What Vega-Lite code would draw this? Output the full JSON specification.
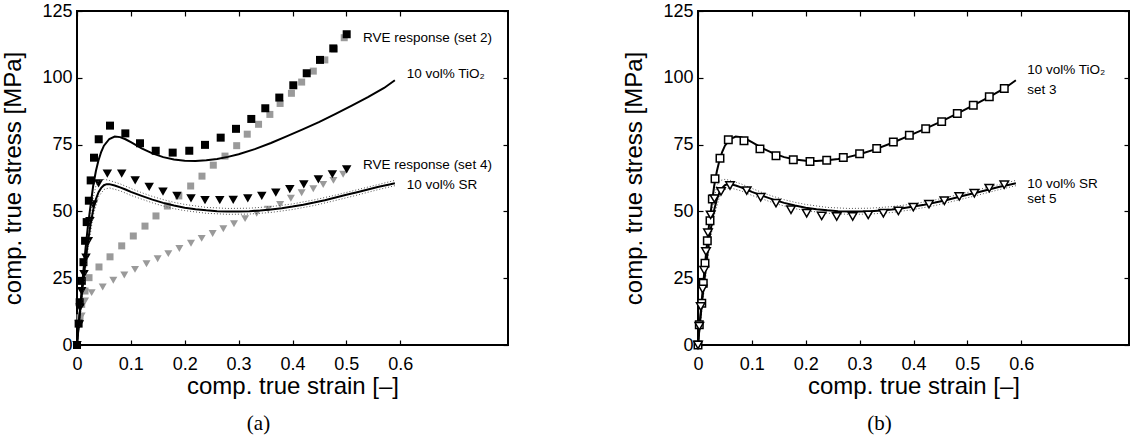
{
  "$schema": "https://vega.github.io/schema/vega-lite/v6.json",
  "background": "white",
  "padding": {"left": 0, "top": 1, "right": 5, "bottom": 3},
  "spacing": 190,
  "bounds": "flush",
  "config": {
    "view": {"stroke": "black", "strokeWidth": 2},
    "style": {"cell": {"stroke": "black", "strokeWidth": 2}},
    "font": "Liberation Sans",
    "axis": {
      "grid": false, "domain": false, "tickColor": "black", "tickSize": 5, "tickWidth": 1.2, "offset": -5,
      "labelFontSize": 18, "labelColor": "black", "labelFont": "Liberation Sans",
      "titleFont": "Liberation Sans", "titleFontSize": 24, "titleFontWeight": "normal", "titleColor": "black",
      "labelFlush": false, "labelOverlap": false
    },
    "title": {"font": "Liberation Serif", "fontSize": 21, "fontWeight": "normal", "color": "black", "orient": "bottom", "offset": 15, "dx": -34}
  },
  "datasets": {
    "model": [
      {"series": "10 vol% TiO2", "strain": 0, "stress": 0},
      {"series": "10 vol% TiO2", "strain": 0.004, "stress": 10},
      {"series": "10 vol% TiO2", "strain": 0.008, "stress": 19},
      {"series": "10 vol% TiO2", "strain": 0.012, "stress": 28},
      {"series": "10 vol% TiO2", "strain": 0.016, "stress": 36.5},
      {"series": "10 vol% TiO2", "strain": 0.02, "stress": 44},
      {"series": "10 vol% TiO2", "strain": 0.025, "stress": 52},
      {"series": "10 vol% TiO2", "strain": 0.03, "stress": 59.5},
      {"series": "10 vol% TiO2", "strain": 0.035, "stress": 65},
      {"series": "10 vol% TiO2", "strain": 0.04, "stress": 69.2},
      {"series": "10 vol% TiO2", "strain": 0.045, "stress": 72.3},
      {"series": "10 vol% TiO2", "strain": 0.05, "stress": 74.6},
      {"series": "10 vol% TiO2", "strain": 0.06, "stress": 77.1},
      {"series": "10 vol% TiO2", "strain": 0.07, "stress": 78.0},
      {"series": "10 vol% TiO2", "strain": 0.08, "stress": 77.8},
      {"series": "10 vol% TiO2", "strain": 0.09, "stress": 77.0},
      {"series": "10 vol% TiO2", "strain": 0.1, "stress": 75.9},
      {"series": "10 vol% TiO2", "strain": 0.12, "stress": 73.6},
      {"series": "10 vol% TiO2", "strain": 0.14, "stress": 71.7},
      {"series": "10 vol% TiO2", "strain": 0.16, "stress": 70.3},
      {"series": "10 vol% TiO2", "strain": 0.18, "stress": 69.4},
      {"series": "10 vol% TiO2", "strain": 0.2, "stress": 69.0},
      {"series": "10 vol% TiO2", "strain": 0.22, "stress": 68.9},
      {"series": "10 vol% TiO2", "strain": 0.24, "stress": 69.1},
      {"series": "10 vol% TiO2", "strain": 0.26, "stress": 69.6},
      {"series": "10 vol% TiO2", "strain": 0.28, "stress": 70.4},
      {"series": "10 vol% TiO2", "strain": 0.3, "stress": 71.4},
      {"series": "10 vol% TiO2", "strain": 0.33, "stress": 73.3},
      {"series": "10 vol% TiO2", "strain": 0.36, "stress": 75.6},
      {"series": "10 vol% TiO2", "strain": 0.39, "stress": 78.2},
      {"series": "10 vol% TiO2", "strain": 0.42, "stress": 80.8},
      {"series": "10 vol% TiO2", "strain": 0.45, "stress": 83.5},
      {"series": "10 vol% TiO2", "strain": 0.48, "stress": 86.5},
      {"series": "10 vol% TiO2", "strain": 0.51, "stress": 89.6},
      {"series": "10 vol% TiO2", "strain": 0.54, "stress": 92.8},
      {"series": "10 vol% TiO2", "strain": 0.57, "stress": 96.2},
      {"series": "10 vol% TiO2", "strain": 0.59, "stress": 99.1},
      {"series": "10 vol% SR", "strain": 0, "stress": 0},
      {"series": "10 vol% SR", "strain": 0.004, "stress": 9},
      {"series": "10 vol% SR", "strain": 0.008, "stress": 17},
      {"series": "10 vol% SR", "strain": 0.012, "stress": 24.5},
      {"series": "10 vol% SR", "strain": 0.016, "stress": 31.5},
      {"series": "10 vol% SR", "strain": 0.02, "stress": 38},
      {"series": "10 vol% SR", "strain": 0.025, "stress": 45},
      {"series": "10 vol% SR", "strain": 0.03, "stress": 50.5},
      {"series": "10 vol% SR", "strain": 0.035, "stress": 54.5},
      {"series": "10 vol% SR", "strain": 0.04, "stress": 57.2},
      {"series": "10 vol% SR", "strain": 0.045, "stress": 58.8},
      {"series": "10 vol% SR", "strain": 0.05, "stress": 59.8},
      {"series": "10 vol% SR", "strain": 0.055, "stress": 60.2},
      {"series": "10 vol% SR", "strain": 0.06, "stress": 60.2},
      {"series": "10 vol% SR", "strain": 0.07, "stress": 59.7},
      {"series": "10 vol% SR", "strain": 0.08, "stress": 59.0},
      {"series": "10 vol% SR", "strain": 0.09, "stress": 58.2},
      {"series": "10 vol% SR", "strain": 0.1, "stress": 57.3},
      {"series": "10 vol% SR", "strain": 0.12, "stress": 55.8},
      {"series": "10 vol% SR", "strain": 0.14, "stress": 54.4},
      {"series": "10 vol% SR", "strain": 0.16, "stress": 53.2},
      {"series": "10 vol% SR", "strain": 0.18, "stress": 52.2},
      {"series": "10 vol% SR", "strain": 0.2, "stress": 51.4},
      {"series": "10 vol% SR", "strain": 0.22, "stress": 50.8},
      {"series": "10 vol% SR", "strain": 0.24, "stress": 50.4},
      {"series": "10 vol% SR", "strain": 0.26, "stress": 50.1},
      {"series": "10 vol% SR", "strain": 0.28, "stress": 50.0},
      {"series": "10 vol% SR", "strain": 0.3, "stress": 50.0},
      {"series": "10 vol% SR", "strain": 0.32, "stress": 50.1},
      {"series": "10 vol% SR", "strain": 0.34, "stress": 50.3},
      {"series": "10 vol% SR", "strain": 0.36, "stress": 50.7},
      {"series": "10 vol% SR", "strain": 0.38, "stress": 51.2},
      {"series": "10 vol% SR", "strain": 0.4, "stress": 51.8},
      {"series": "10 vol% SR", "strain": 0.42, "stress": 52.5},
      {"series": "10 vol% SR", "strain": 0.44, "stress": 53.3},
      {"series": "10 vol% SR", "strain": 0.46, "stress": 54.2},
      {"series": "10 vol% SR", "strain": 0.48, "stress": 55.2},
      {"series": "10 vol% SR", "strain": 0.5, "stress": 56.2},
      {"series": "10 vol% SR", "strain": 0.52, "stress": 57.2},
      {"series": "10 vol% SR", "strain": 0.54, "stress": 58.2},
      {"series": "10 vol% SR", "strain": 0.56, "stress": 59.2},
      {"series": "10 vol% SR", "strain": 0.58, "stress": 60.1},
      {"series": "10 vol% SR", "strain": 0.59, "stress": 60.5}
    ],
    "bounds": [
      {"series": "SR upper", "strain": 0, "stress": 0},
      {"series": "SR upper", "strain": 0.01, "stress": 22},
      {"series": "SR upper", "strain": 0.02, "stress": 42},
      {"series": "SR upper", "strain": 0.03, "stress": 55},
      {"series": "SR upper", "strain": 0.035, "stress": 59.5},
      {"series": "SR upper", "strain": 0.04, "stress": 61.5},
      {"series": "SR upper", "strain": 0.05, "stress": 62},
      {"series": "SR upper", "strain": 0.06, "stress": 61.6},
      {"series": "SR upper", "strain": 0.08, "stress": 60.3},
      {"series": "SR upper", "strain": 0.1, "stress": 58.6},
      {"series": "SR upper", "strain": 0.12, "stress": 57},
      {"series": "SR upper", "strain": 0.14, "stress": 55.6},
      {"series": "SR upper", "strain": 0.16, "stress": 54.4},
      {"series": "SR upper", "strain": 0.18, "stress": 53.4},
      {"series": "SR upper", "strain": 0.2, "stress": 52.6},
      {"series": "SR upper", "strain": 0.24, "stress": 51.5},
      {"series": "SR upper", "strain": 0.28, "stress": 51.1},
      {"series": "SR upper", "strain": 0.32, "stress": 51.2},
      {"series": "SR upper", "strain": 0.36, "stress": 51.8},
      {"series": "SR upper", "strain": 0.4, "stress": 52.8},
      {"series": "SR upper", "strain": 0.44, "stress": 54.3},
      {"series": "SR upper", "strain": 0.48, "stress": 56.1},
      {"series": "SR upper", "strain": 0.52, "stress": 58.1},
      {"series": "SR upper", "strain": 0.56, "stress": 60.1},
      {"series": "SR upper", "strain": 0.59, "stress": 61.6},
      {"series": "SR lower", "strain": 0, "stress": 0},
      {"series": "SR lower", "strain": 0.01, "stress": 18},
      {"series": "SR lower", "strain": 0.02, "stress": 35},
      {"series": "SR lower", "strain": 0.03, "stress": 48.5},
      {"series": "SR lower", "strain": 0.04, "stress": 55.5},
      {"series": "SR lower", "strain": 0.05, "stress": 58.2},
      {"series": "SR lower", "strain": 0.06, "stress": 58.8},
      {"series": "SR lower", "strain": 0.08, "stress": 57.7},
      {"series": "SR lower", "strain": 0.1, "stress": 56.0},
      {"series": "SR lower", "strain": 0.12, "stress": 54.6},
      {"series": "SR lower", "strain": 0.14, "stress": 53.2},
      {"series": "SR lower", "strain": 0.16, "stress": 52.0},
      {"series": "SR lower", "strain": 0.18, "stress": 51.0},
      {"series": "SR lower", "strain": 0.2, "stress": 50.3},
      {"series": "SR lower", "strain": 0.24, "stress": 49.3},
      {"series": "SR lower", "strain": 0.28, "stress": 48.9},
      {"series": "SR lower", "strain": 0.32, "stress": 49.0},
      {"series": "SR lower", "strain": 0.36, "stress": 49.6},
      {"series": "SR lower", "strain": 0.4, "stress": 50.7},
      {"series": "SR lower", "strain": 0.44, "stress": 52.2},
      {"series": "SR lower", "strain": 0.48, "stress": 54.1},
      {"series": "SR lower", "strain": 0.52, "stress": 56.1},
      {"series": "SR lower", "strain": 0.56, "stress": 58.2},
      {"series": "SR lower", "strain": 0.59, "stress": 59.6}
    ],
    "rve": [
      {"series": "set 2", "strain": 0, "stress": 0},
      {"series": "set 2", "strain": 0.003, "stress": 8},
      {"series": "set 2", "strain": 0.005, "stress": 16},
      {"series": "set 2", "strain": 0.009, "stress": 24},
      {"series": "set 2", "strain": 0.012, "stress": 31},
      {"series": "set 2", "strain": 0.015, "stress": 39},
      {"series": "set 2", "strain": 0.018, "stress": 46},
      {"series": "set 2", "strain": 0.022, "stress": 54},
      {"series": "set 2", "strain": 0.0254, "stress": 61.6},
      {"series": "set 2", "strain": 0.0316, "stress": 70.1},
      {"series": "set 2", "strain": 0.0403, "stress": 77.0},
      {"series": "set 2", "strain": 0.0613, "stress": 82.1},
      {"series": "set 2", "strain": 0.0897, "stress": 79.2},
      {"series": "set 2", "strain": 0.1169, "stress": 75.5},
      {"series": "set 2", "strain": 0.1461, "stress": 72.7},
      {"series": "set 2", "strain": 0.1776, "stress": 72.0},
      {"series": "set 2", "strain": 0.2084, "stress": 72.7},
      {"series": "set 2", "strain": 0.2376, "stress": 74.9},
      {"series": "set 2", "strain": 0.2667, "stress": 77.6},
      {"series": "set 2", "strain": 0.2951, "stress": 80.9},
      {"series": "set 2", "strain": 0.3235, "stress": 84.6},
      {"series": "set 2", "strain": 0.3495, "stress": 88.6},
      {"series": "set 2", "strain": 0.3755, "stress": 92.6},
      {"series": "set 2", "strain": 0.4015, "stress": 97.2},
      {"series": "set 2", "strain": 0.4264, "stress": 101.7},
      {"series": "set 2", "strain": 0.451, "stress": 106.7},
      {"series": "set 2", "strain": 0.4757, "stress": 111.0},
      {"series": "set 2", "strain": 0.5006, "stress": 116.3},
      {"series": "set 2 gray", "strain": 0, "stress": 0},
      {"series": "set 2 gray", "strain": 0.0056, "stress": 10.2},
      {"series": "set 2 gray", "strain": 0.0087, "stress": 15.2},
      {"series": "set 2 gray", "strain": 0.0149, "stress": 20.2},
      {"series": "set 2 gray", "strain": 0.0223, "stress": 25.2},
      {"series": "set 2 gray", "strain": 0.0408, "stress": 29.2},
      {"series": "set 2 gray", "strain": 0.0613, "stress": 33.0},
      {"series": "set 2 gray", "strain": 0.083, "stress": 37.1},
      {"series": "set 2 gray", "strain": 0.1045, "stress": 40.8},
      {"series": "set 2 gray", "strain": 0.1262, "stress": 44.5},
      {"series": "set 2 gray", "strain": 0.1466, "stress": 48.3},
      {"series": "set 2 gray", "strain": 0.1677, "stress": 52.0},
      {"series": "set 2 gray", "strain": 0.189, "stress": 55.8},
      {"series": "set 2 gray", "strain": 0.211, "stress": 59.5},
      {"series": "set 2 gray", "strain": 0.232, "stress": 63.2},
      {"series": "set 2 gray", "strain": 0.253, "stress": 67.3},
      {"series": "set 2 gray", "strain": 0.2747, "stress": 70.7},
      {"series": "set 2 gray", "strain": 0.2964, "stress": 74.6},
      {"series": "set 2 gray", "strain": 0.316, "stress": 78.9},
      {"series": "set 2 gray", "strain": 0.337, "stress": 82.6},
      {"series": "set 2 gray", "strain": 0.358, "stress": 86.3},
      {"series": "set 2 gray", "strain": 0.377, "stress": 90.4},
      {"series": "set 2 gray", "strain": 0.398, "stress": 94.2},
      {"series": "set 2 gray", "strain": 0.417, "stress": 98.4},
      {"series": "set 2 gray", "strain": 0.4386, "stress": 102.5},
      {"series": "set 2 gray", "strain": 0.46, "stress": 106.7},
      {"series": "set 2 gray", "strain": 0.478, "stress": 110.8},
      {"series": "set 2 gray", "strain": 0.496, "stress": 115.0},
      {"series": "set 4", "strain": 0, "stress": 0},
      {"series": "set 4", "strain": 0.0043, "stress": 7.7},
      {"series": "set 4", "strain": 0.0056, "stress": 14},
      {"series": "set 4", "strain": 0.0087, "stress": 20.2},
      {"series": "set 4", "strain": 0.013, "stress": 26.5},
      {"series": "set 4", "strain": 0.0167, "stress": 32.7},
      {"series": "set 4", "strain": 0.021, "stress": 38.9},
      {"series": "set 4", "strain": 0.024, "stress": 46.4},
      {"series": "set 4", "strain": 0.03, "stress": 52.6},
      {"series": "set 4", "strain": 0.04, "stress": 60.5},
      {"series": "set 4", "strain": 0.0563, "stress": 64.1},
      {"series": "set 4", "strain": 0.083, "stress": 64.1},
      {"series": "set 4", "strain": 0.108, "stress": 61.6},
      {"series": "set 4", "strain": 0.134, "stress": 59.2},
      {"series": "set 4", "strain": 0.1596, "stress": 57.4},
      {"series": "set 4", "strain": 0.1856, "stress": 55.8},
      {"series": "set 4", "strain": 0.2116, "stress": 54.9},
      {"series": "set 4", "strain": 0.2376, "stress": 54.2},
      {"series": "set 4", "strain": 0.265, "stress": 54.2},
      {"series": "set 4", "strain": 0.29, "stress": 54.3},
      {"series": "set 4", "strain": 0.317, "stress": 54.9},
      {"series": "set 4", "strain": 0.343, "stress": 55.8},
      {"series": "set 4", "strain": 0.369, "stress": 57.0},
      {"series": "set 4", "strain": 0.395, "stress": 58.3},
      {"series": "set 4", "strain": 0.421, "stress": 60.1},
      {"series": "set 4", "strain": 0.448, "stress": 62.0},
      {"series": "set 4", "strain": 0.474, "stress": 63.9},
      {"series": "set 4", "strain": 0.5006, "stress": 65.7},
      {"series": "set 4 gray", "strain": 0, "stress": 0},
      {"series": "set 4 gray", "strain": 0.0087, "stress": 10.9},
      {"series": "set 4 gray", "strain": 0.0149, "stress": 16.5},
      {"series": "set 4 gray", "strain": 0.0272, "stress": 19.6},
      {"series": "set 4 gray", "strain": 0.0477, "stress": 21.7},
      {"series": "set 4 gray", "strain": 0.0674, "stress": 24.2},
      {"series": "set 4 gray", "strain": 0.0878, "stress": 26.2},
      {"series": "set 4 gray", "strain": 0.1077, "stress": 28.3},
      {"series": "set 4 gray", "strain": 0.129, "stress": 30.4},
      {"series": "set 4 gray", "strain": 0.1497, "stress": 32.3},
      {"series": "set 4 gray", "strain": 0.1695, "stress": 34.2},
      {"series": "set 4 gray", "strain": 0.19, "stress": 36.1},
      {"series": "set 4 gray", "strain": 0.2116, "stress": 38.1},
      {"series": "set 4 gray", "strain": 0.2314, "stress": 39.9},
      {"series": "set 4 gray", "strain": 0.2518, "stress": 41.7},
      {"series": "set 4 gray", "strain": 0.2716, "stress": 43.5},
      {"series": "set 4 gray", "strain": 0.2914, "stress": 45.4},
      {"series": "set 4 gray", "strain": 0.312, "stress": 47.3},
      {"series": "set 4 gray", "strain": 0.3335, "stress": 49.3},
      {"series": "set 4 gray", "strain": 0.355, "stress": 50.8},
      {"series": "set 4 gray", "strain": 0.377, "stress": 52.6},
      {"series": "set 4 gray", "strain": 0.397, "stress": 54.9},
      {"series": "set 4 gray", "strain": 0.417, "stress": 57.0},
      {"series": "set 4 gray", "strain": 0.4386, "stress": 58.5},
      {"series": "set 4 gray", "strain": 0.457, "stress": 60.1},
      {"series": "set 4 gray", "strain": 0.476, "stress": 61.6},
      {"series": "set 4 gray", "strain": 0.494, "stress": 63.9}
    ],
    "exp": [
      {"series": "set 3", "strain": 0, "stress": 0},
      {"series": "set 3", "strain": 0.0024, "stress": 7.6},
      {"series": "set 3", "strain": 0.007, "stress": 15.6},
      {"series": "set 3", "strain": 0.0098, "stress": 23.1},
      {"series": "set 3", "strain": 0.013, "stress": 30.6},
      {"series": "set 3", "strain": 0.0173, "stress": 39.0},
      {"series": "set 3", "strain": 0.0223, "stress": 46.5},
      {"series": "set 3", "strain": 0.0266, "stress": 54.6},
      {"series": "set 3", "strain": 0.0316, "stress": 62.2},
      {"series": "set 3", "strain": 0.0408, "stress": 69.9},
      {"series": "set 3", "strain": 0.0563, "stress": 76.8},
      {"series": "set 3", "strain": 0.0854, "stress": 76.4},
      {"series": "set 3", "strain": 0.115, "stress": 73.4},
      {"series": "set 3", "strain": 0.1448, "stress": 70.8},
      {"series": "set 3", "strain": 0.1769, "stress": 69.3},
      {"series": "set 3", "strain": 0.2079, "stress": 68.7},
      {"series": "set 3", "strain": 0.2389, "stress": 69.1},
      {"series": "set 3", "strain": 0.2697, "stress": 70.2},
      {"series": "set 3", "strain": 0.3, "stress": 71.6},
      {"series": "set 3", "strain": 0.3317, "stress": 73.5},
      {"series": "set 3", "strain": 0.3626, "stress": 76.0},
      {"series": "set 3", "strain": 0.3923, "stress": 78.5},
      {"series": "set 3", "strain": 0.4226, "stress": 80.9},
      {"series": "set 3", "strain": 0.4523, "stress": 83.6},
      {"series": "set 3", "strain": 0.4813, "stress": 86.6},
      {"series": "set 3", "strain": 0.511, "stress": 89.7},
      {"series": "set 3", "strain": 0.5407, "stress": 92.9},
      {"series": "set 3", "strain": 0.5685, "stress": 96.0},
      {"series": "set 5", "strain": 0, "stress": 0},
      {"series": "set 5", "strain": 0.0024, "stress": 7},
      {"series": "set 5", "strain": 0.005, "stress": 14.4},
      {"series": "set 5", "strain": 0.0085, "stress": 21},
      {"series": "set 5", "strain": 0.0115, "stress": 28},
      {"series": "set 5", "strain": 0.0148, "stress": 35},
      {"series": "set 5", "strain": 0.0185, "stress": 42},
      {"series": "set 5", "strain": 0.0235, "stress": 48.7},
      {"series": "set 5", "strain": 0.0305, "stress": 54.8},
      {"series": "set 5", "strain": 0.0427, "stress": 57.5},
      {"series": "set 5", "strain": 0.0594, "stress": 59.7},
      {"series": "set 5", "strain": 0.0904, "stress": 57.8},
      {"series": "set 5", "strain": 0.1163, "stress": 55.3},
      {"series": "set 5", "strain": 0.1448, "stress": 53.1},
      {"series": "set 5", "strain": 0.1726, "stress": 50.6},
      {"series": "set 5", "strain": 0.2017, "stress": 49.3},
      {"series": "set 5", "strain": 0.2296, "stress": 48.3},
      {"series": "set 5", "strain": 0.2574, "stress": 48.1},
      {"series": "set 5", "strain": 0.2871, "stress": 48.1},
      {"series": "set 5", "strain": 0.316, "stress": 48.7},
      {"series": "set 5", "strain": 0.344, "stress": 49.3},
      {"series": "set 5", "strain": 0.372, "stress": 50.2},
      {"series": "set 5", "strain": 0.3997, "stress": 51.6},
      {"series": "set 5", "strain": 0.4288, "stress": 52.7},
      {"series": "set 5", "strain": 0.4572, "stress": 54.0},
      {"series": "set 5", "strain": 0.485, "stress": 55.6},
      {"series": "set 5", "strain": 0.5129, "stress": 56.8},
      {"series": "set 5", "strain": 0.5407, "stress": 58.7},
      {"series": "set 5", "strain": 0.5685, "stress": 60.0}
    ],
    "labels": [
      {"panel": "a", "text": "RVE response (set 2)", "strain": 0.531, "stress": 114.9},
      {"panel": "a", "text": "10 vol% TiO₂", "strain": 0.612, "stress": 101.4},
      {"panel": "a", "text": "RVE response (set 4)", "strain": 0.531, "stress": 67.4},
      {"panel": "a", "text": "10 vol% SR", "strain": 0.612, "stress": 59.9},
      {"panel": "b", "text": "10 vol% TiO₂", "strain": 0.611, "stress": 103.0},
      {"panel": "b", "text": "set 3", "strain": 0.611, "stress": 95.5},
      {"panel": "b", "text": "10 vol% SR", "strain": 0.611, "stress": 60.2},
      {"panel": "b", "text": "set 5", "strain": 0.611, "stress": 54.7}
    ]
  },
  "hconcat": [
    {
      "width": 431,
      "height": 334,
      "view": {"stroke": "black", "strokeWidth": 2},
      "title": {"text": "(a)"},
      "resolve": {"axis": {"x": "independent", "y": "independent"}},
      "layer": [
        {
          "data": {"name": "rve"},
          "transform": [{"filter": "datum.series === 'set 2 gray'"}],
          "mark": {"type": "point", "shape": "square", "filled": true, "color": "#9a9a9a", "size": 49, "opacity": 1},
          "encoding": {
            "x": {"field": "strain", "type": "quantitative", "scale": {"domain": [0, 0.8], "nice": false, "zero": false}, "axis": {"orient": "bottom", "values": [0, 0.1, 0.2, 0.3, 0.4, 0.5, 0.6], "format": "~g", "title": "comp. true strain [–]", "labelPadding": 10, "titlePadding": 1}},
            "y": {"field": "stress", "type": "quantitative", "scale": {"domain": [0, 125], "nice": false, "zero": false}, "axis": {"orient": "left", "values": [0, 25, 50, 75, 100, 125], "title": "comp. true stress [MPa]", "labelPadding": 5, "titlePadding": 16}}
          }
        },
        {
          "data": {"name": "rve"},
          "transform": [{"filter": "datum.series === 'set 4 gray'"}],
          "mark": {"type": "point", "shape": "triangle-down", "filled": true, "color": "#9a9a9a", "size": 64, "opacity": 1},
          "encoding": {
            "x": {"field": "strain", "type": "quantitative", "scale": {"domain": [0, 0.8], "nice": false, "zero": false}, "axis": {"orient": "top", "values": [0, 0.1, 0.2, 0.3, 0.4, 0.5, 0.6], "labels": false, "title": null}},
            "y": {"field": "stress", "type": "quantitative", "scale": {"domain": [0, 125], "nice": false, "zero": false}, "axis": {"orient": "right", "values": [0, 25, 50, 75, 100, 125], "labels": false, "title": null}}
          }
        },
        {
          "data": {"name": "rve"},
          "transform": [{"filter": "datum.series === 'set 2'"}],
          "mark": {"type": "point", "shape": "square", "filled": true, "color": "black", "size": 64, "opacity": 1},
          "encoding": {
            "x": {"field": "strain", "type": "quantitative", "scale": {"domain": [0, 0.8], "nice": false, "zero": false}, "axis": null},
            "y": {"field": "stress", "type": "quantitative", "scale": {"domain": [0, 125], "nice": false, "zero": false}, "axis": null}
          }
        },
        {
          "data": {"name": "rve"},
          "transform": [{"filter": "datum.series === 'set 4'"}],
          "mark": {"type": "point", "shape": "triangle-down", "filled": true, "color": "black", "size": 90, "opacity": 1},
          "encoding": {
            "x": {"field": "strain", "type": "quantitative", "scale": {"domain": [0, 0.8], "nice": false, "zero": false}, "axis": null},
            "y": {"field": "stress", "type": "quantitative", "scale": {"domain": [0, 125], "nice": false, "zero": false}, "axis": null}
          }
        },
        {
          "data": {"name": "bounds"},
          "mark": {"type": "line", "color": "#555555", "strokeWidth": 1, "strokeDash": [1, 2]},
          "encoding": {
            "x": {"field": "strain", "type": "quantitative", "scale": {"domain": [0, 0.8], "nice": false, "zero": false}, "axis": null},
            "y": {"field": "stress", "type": "quantitative", "scale": {"domain": [0, 125], "nice": false, "zero": false}, "axis": null},
            "detail": {"field": "series"}
          }
        },
        {
          "data": {"name": "model"},
          "mark": {"type": "line", "color": "black", "strokeWidth": 2},
          "encoding": {
            "x": {"field": "strain", "type": "quantitative", "scale": {"domain": [0, 0.8], "nice": false, "zero": false}, "axis": null},
            "y": {"field": "stress", "type": "quantitative", "scale": {"domain": [0, 125], "nice": false, "zero": false}, "axis": null},
            "detail": {"field": "series"}
          }
        },
        {
          "data": {"name": "labels"},
          "transform": [{"filter": "datum.panel === 'a'"}],
          "mark": {"type": "text", "align": "left", "baseline": "middle", "fontSize": 13.5, "font": "Liberation Sans", "color": "black"},
          "encoding": {
            "x": {"field": "strain", "type": "quantitative", "scale": {"domain": [0, 0.8], "nice": false, "zero": false}, "axis": null},
            "y": {"field": "stress", "type": "quantitative", "scale": {"domain": [0, 125], "nice": false, "zero": false}, "axis": null},
            "text": {"field": "text"}
          }
        }
      ]
    },
    {
      "width": 431,
      "height": 334,
      "view": {"stroke": "black", "strokeWidth": 2},
      "title": {"text": "(b)"},
      "resolve": {"axis": {"x": "independent", "y": "independent"}},
      "layer": [
        {
          "data": {"name": "bounds"},
          "mark": {"type": "line", "color": "#555555", "strokeWidth": 1, "strokeDash": [1, 2]},
          "encoding": {
            "x": {"field": "strain", "type": "quantitative", "scale": {"domain": [0, 0.8], "nice": false, "zero": false}, "axis": {"orient": "top", "values": [0, 0.1, 0.2, 0.3, 0.4, 0.5, 0.6], "labels": false, "title": null}},
            "y": {"field": "stress", "type": "quantitative", "scale": {"domain": [0, 125], "nice": false, "zero": false}, "axis": {"orient": "right", "values": [0, 25, 50, 75, 100, 125], "labels": false, "title": null}},
            "detail": {"field": "series"}
          }
        },
        {
          "data": {"name": "model"},
          "mark": {"type": "line", "color": "black", "strokeWidth": 2},
          "encoding": {
            "x": {"field": "strain", "type": "quantitative", "scale": {"domain": [0, 0.8], "nice": false, "zero": false}, "axis": {"orient": "bottom", "values": [0, 0.1, 0.2, 0.3, 0.4, 0.5, 0.6], "format": "~g", "title": "comp. true strain [–]", "labelPadding": 10, "titlePadding": 1}},
            "y": {"field": "stress", "type": "quantitative", "scale": {"domain": [0, 125], "nice": false, "zero": false}, "axis": {"orient": "left", "values": [0, 25, 50, 75, 100, 125], "title": "comp. true stress [MPa]", "labelPadding": 5, "titlePadding": 16}},
            "detail": {"field": "series"}
          }
        },
        {
          "data": {"name": "exp"},
          "transform": [{"filter": "datum.series === 'set 3'"}],
          "mark": {"type": "point", "shape": "square", "filled": true, "fill": "white", "stroke": "black", "strokeWidth": 1.5, "size": 56, "opacity": 1},
          "encoding": {
            "x": {"field": "strain", "type": "quantitative", "scale": {"domain": [0, 0.8], "nice": false, "zero": false}, "axis": null},
            "y": {"field": "stress", "type": "quantitative", "scale": {"domain": [0, 125], "nice": false, "zero": false}, "axis": null}
          }
        },
        {
          "data": {"name": "exp"},
          "transform": [{"filter": "datum.series === 'set 5'"}],
          "mark": {"type": "point", "shape": "triangle-down", "filled": true, "fill": "white", "stroke": "black", "strokeWidth": 1.5, "size": 72, "opacity": 1},
          "encoding": {
            "x": {"field": "strain", "type": "quantitative", "scale": {"domain": [0, 0.8], "nice": false, "zero": false}, "axis": null},
            "y": {"field": "stress", "type": "quantitative", "scale": {"domain": [0, 125], "nice": false, "zero": false}, "axis": null}
          }
        },
        {
          "data": {"name": "labels"},
          "transform": [{"filter": "datum.panel === 'b'"}],
          "mark": {"type": "text", "align": "left", "baseline": "middle", "fontSize": 13.5, "font": "Liberation Sans", "color": "black"},
          "encoding": {
            "x": {"field": "strain", "type": "quantitative", "scale": {"domain": [0, 0.8], "nice": false, "zero": false}, "axis": null},
            "y": {"field": "stress", "type": "quantitative", "scale": {"domain": [0, 125], "nice": false, "zero": false}, "axis": null},
            "text": {"field": "text"}
          }
        }
      ]
    }
  ]
}
